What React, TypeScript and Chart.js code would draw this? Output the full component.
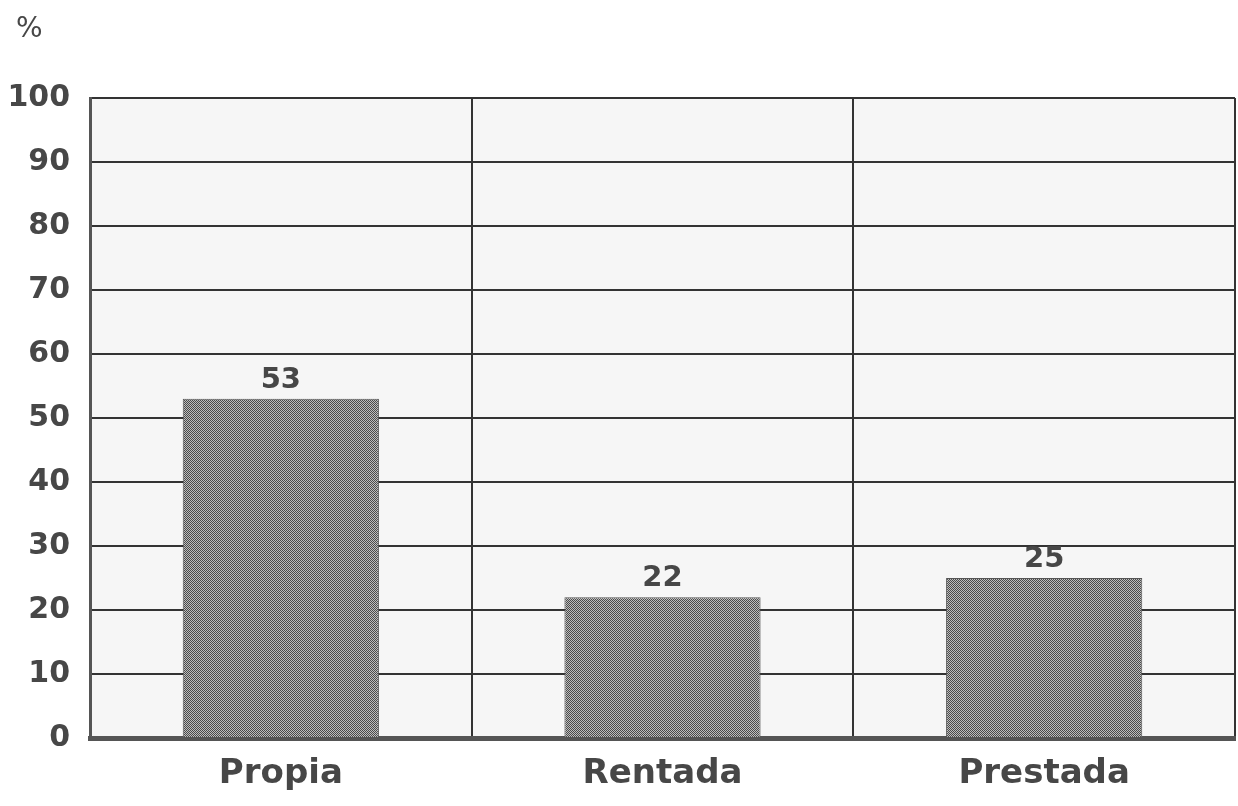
import React, { useEffect, useRef } from "react";
import { Chart, registerables } from "chart.js";

Chart.register(...registerables);

const categories = ["Propia", "Rentada", "Prestada"];
const values = [53, 22, 25];
const yMin = 0;
const yMax = 100;
const yStep = 10;
const unitLabel = "%";

const FONT = "'DejaVu Sans', sans-serif";
const TEXT = "#474747";

function makePattern(): CanvasPattern | string {
  const c = document.createElement("canvas");
  c.width = 2;
  c.height = 2;
  const g = c.getContext("2d");
  if (!g) return "#888";
  g.fillStyle = "#bdbdbd";
  g.fillRect(0, 0, 2, 2);
  g.fillStyle = "#4a4a4a";
  g.fillRect(0, 0, 1, 1);
  g.fillRect(1, 1, 1, 1);
  const p = g.createPattern(c, "repeat");
  return p || "#888";
}

const bgPlugin = {
  id: "plotBg",
  beforeDraw(chart: any) {
    const { ctx, chartArea } = chart;
    ctx.save();
    ctx.fillStyle = "#f6f6f6";
    ctx.fillRect(chartArea.left, chartArea.top, chartArea.right - chartArea.left, chartArea.bottom - chartArea.top);
    ctx.restore();
  },
};

const labelPlugin = {
  id: "valueLabels",
  afterDatasetsDraw(chart: any) {
    const { ctx } = chart;
    const meta = chart.getDatasetMeta(0);
    ctx.save();
    ctx.fillStyle = TEXT;
    ctx.font = `bold 29px ${FONT}`;
    ctx.textAlign = "center";
    ctx.textBaseline = "bottom";
    meta.data.forEach((bar: any, i: number) => {
      ctx.fillText(String(chart.data.datasets[0].data[i]), bar.x, bar.y - 4);
    });
    ctx.restore();
  },
  afterDraw(chart: any) {
    const { ctx } = chart;
    ctx.save();
    ctx.fillStyle = TEXT;
    ctx.font = `28px ${FONT}`;
    ctx.textAlign = "left";
    ctx.textBaseline = "middle";
    ctx.fillText(unitLabel, 16, 30);
    ctx.restore();
  },
};

export default function App() {
  const ref = useRef<HTMLCanvasElement | null>(null);
  useEffect(() => {
    if (!ref.current) return;
    const chart = new Chart(ref.current, {
      type: "bar",
      data: {
        labels: categories,
        datasets: [
          {
            data: values,
            backgroundColor: makePattern() as any,
            borderColor: "#555",
            borderWidth: 1,
            categoryPercentage: 1,
            barPercentage: 0.514,
          },
        ],
      },
      options: {
        animation: false,
        responsive: true,
        maintainAspectRatio: false,
        layout: { padding: { left: 0, top: 98, right: 3, bottom: 0 } },
        plugins: {
          legend: { display: false },
          tooltip: { enabled: false },
        },
        scales: {
          x: {
            offset: true,
            grid: { display: true, offset: true, color: "#333", lineWidth: 2, drawTicks: false },
            border: { display: true, color: "#555", width: 5 },
            ticks: { color: TEXT, font: { family: FONT, size: 34, weight: "bold" }, padding: 16 },
            afterFit(scale: any) {
              scale.height = 68;
            },
          },
          y: {
            min: yMin,
            max: yMax,
            grid: { color: "#333", lineWidth: 2, drawTicks: false },
            border: { display: true, color: "#555", width: 3 },
            ticks: { stepSize: yStep, color: TEXT, font: { family: FONT, size: 30, weight: "bold" }, padding: 20 },
            afterFit(scale: any) {
              scale.width = 90;
            },
          },
        },
      },
      plugins: [bgPlugin, labelPlugin],
    });
    return () => chart.destroy();
  }, []);
  return (
    <div style={{ position: "fixed", left: 0, top: 0, width: 1238, height: 806, background: "#fff" }}>
      <canvas ref={ref} />
    </div>
  );
}
